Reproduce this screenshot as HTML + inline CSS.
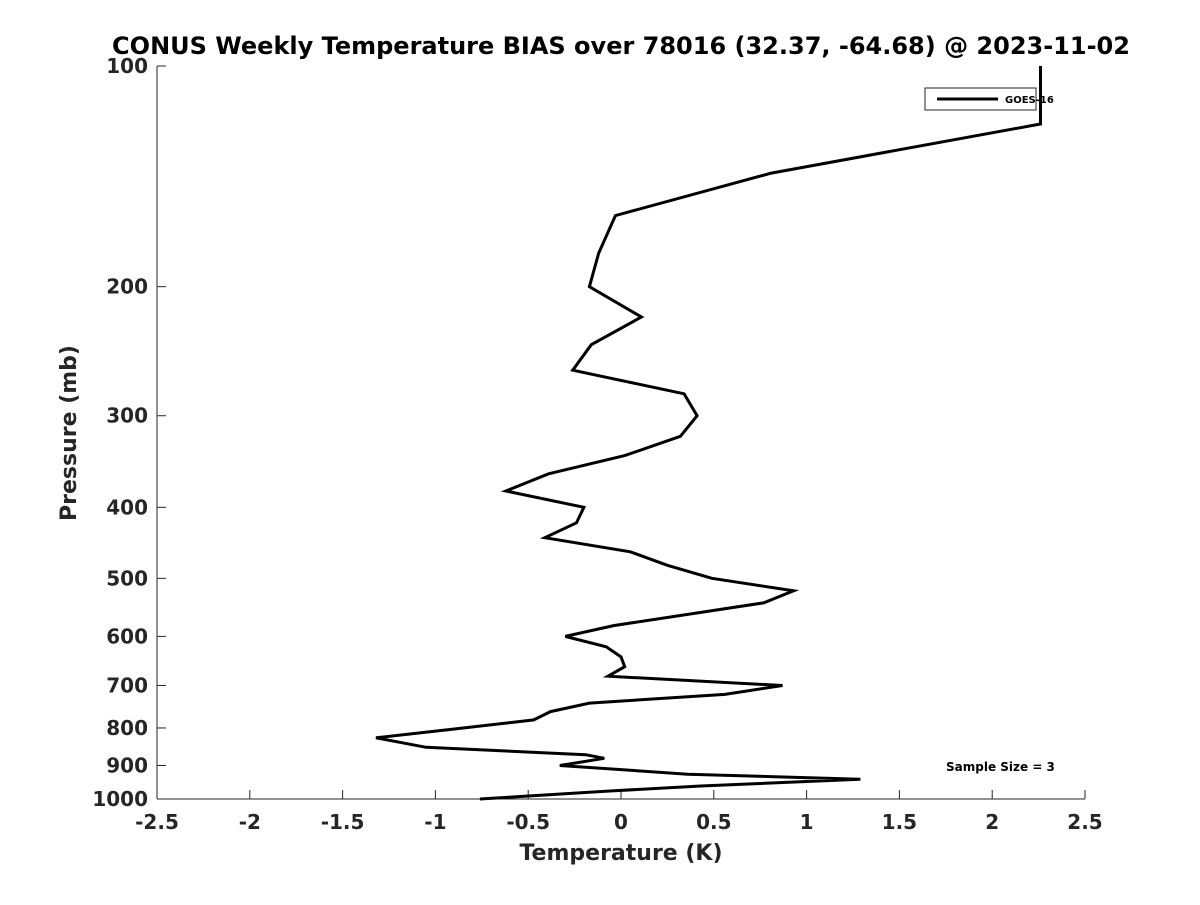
<!DOCTYPE html>
<html><head><meta charset="utf-8"><style>
body{margin:0;background:#fff;}
svg text{font-family:"DejaVu Sans","Liberation Sans",sans-serif;font-weight:bold;fill:#262626;}
</style></head><body>
<svg id="chart" width="1200" height="900" xmlns="http://www.w3.org/2000/svg">
<rect width="1200" height="900" fill="#fff"/>
<text x="621" y="54" text-anchor="middle" font-size="24" style="fill:#000">CONUS Weekly Temperature BIAS over 78016 (32.37, -64.68) @ 2023-11-02</text>
<g id="axes"></g>
<path id="series" fill="none" stroke="#000" stroke-width="3" stroke-linejoin="miter"/>
<g>
<rect x="925" y="88" width="111" height="22" fill="#fff" stroke="#262626" stroke-width="1"/>
<line x1="937" y1="99" x2="998" y2="99" stroke="#000" stroke-width="3"/>
<text x="1005" y="103" font-size="10" style="fill:#000">GOES-16</text>
</g>
<text x="946" y="771" font-size="12" style="fill:#000">Sample Size = 3</text>
<text x="621" y="860" text-anchor="middle" font-size="22">Temperature (K)</text>
<text transform="translate(76,433) rotate(-90)" text-anchor="middle" font-size="22">Pressure (mb)</text>
</svg>
<script>
const pressures=[100,120,140,160,180,200,220,240,260,280,300,320,340,360,380,400,420,440,460,480,500,520,540,580,600,620,640,660,680,700,720,740,760,780,800,825,850,870,880,900,925,940,960,975,1000];
const temps=[2.26,2.26,0.81,-0.03,-0.12,-0.17,0.11,-0.16,-0.26,0.34,0.41,0.32,0.02,-0.39,-0.62,-0.20,-0.24,-0.41,0.05,0.25,0.49,0.93,0.77,-0.04,-0.30,-0.08,0.0,0.02,-0.07,0.87,0.56,-0.17,-0.38,-0.47,-0.85,-1.32,-1.05,-0.19,-0.09,-0.33,0.36,1.29,0.43,-0.05,-0.76];
const xTicks=[-2.5,-2,-1.5,-1,-0.5,0,0.5,1,1.5,2,2.5];
const xTickLabels=["-2.5","-2","-1.5","-1","-0.5","0","0.5","1","1.5","2","2.5"];
const yTicks=[100,200,300,400,500,600,700,800,900,1000];
const X0=157,X1=1085,Y0=66,Y1=799;
const xs=v=>X0+(v+2.5)/5*(X1-X0);
const ys=p=>Y0+Math.log10(p/100)*(Y1-Y0);
const NS="http://www.w3.org/2000/svg";
const ax=document.getElementById('axes');
function mk(t,a){const e=document.createElementNS(NS,t);for(const k in a)e.setAttribute(k,a[k]);ax.appendChild(e);return e;}
const xl=mk('line',{x1:X0,y1:Y1,x2:X1,y2:Y1,stroke:'#262626','stroke-width':1});


const yl=mk('line',{x1:X0,y1:Y0,x2:X0,y2:Y1,stroke:'#262626','stroke-width':1});


xTicks.forEach((v,i)=>{const x=xs(v);
mk('line',{x1:x,y1:Y1,x2:x,y2:Y1-9,stroke:'#262626'});
const t=mk('text',{x:x,y:Y1+30,'text-anchor':'middle','font-size':20});t.textContent=xTickLabels[i];

});
yTicks.forEach(p=>{const y=ys(p);
mk('line',{x1:X0,y1:y,x2:X0+9,y2:y,stroke:'#262626'});
const t=mk('text',{x:X0-9,y:y+7,'text-anchor':'end','font-size':20});t.textContent=p;

});
document.getElementById('series').setAttribute('d',pressures.map((p,i)=>(i?'L':'M')+xs(temps[i]).toFixed(1)+','+ys(p).toFixed(1)).join(''));
</script>
</body></html>
